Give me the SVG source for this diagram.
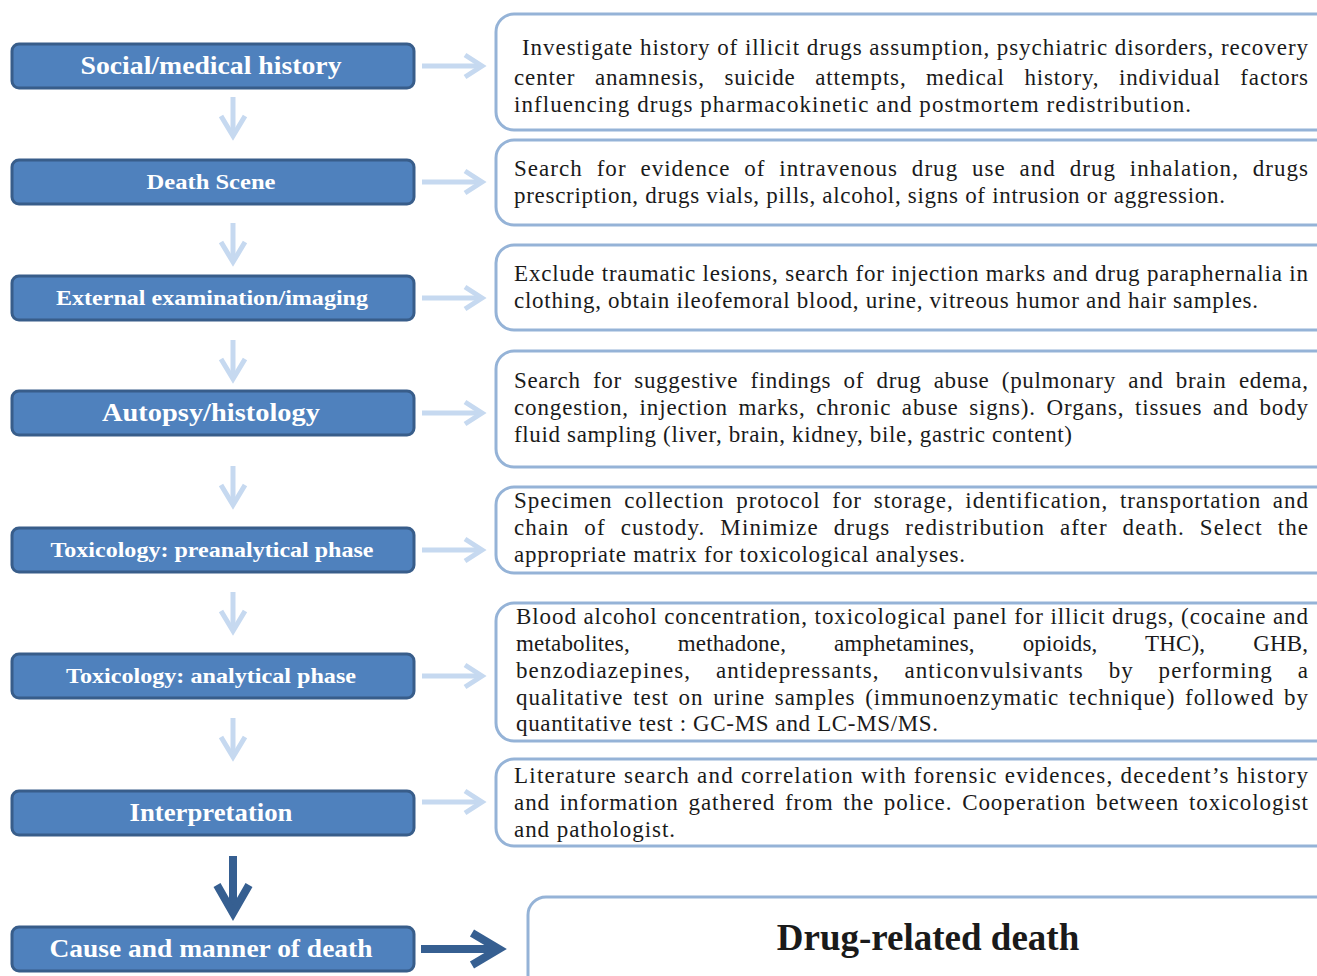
<svg xmlns="http://www.w3.org/2000/svg" width="1317" height="976" viewBox="0 0 1317 976">
<style>
.step rect{fill:#4f81bd;stroke:#385d8a;stroke-width:3}
.step text{fill:#ffffff;font-family:"Liberation Serif",serif;font-weight:bold;text-anchor:middle}
.info rect{fill:#ffffff;stroke:#95b3d7;stroke-width:3}
.info text{fill:#1a1a1a;font-family:"Liberation Serif",serif;font-size:23px}
.lt{fill:none;stroke:#c6d9f0;stroke-width:5;stroke-linecap:butt}
.dk{fill:none;stroke:#365f91;stroke-width:8}
</style>
<rect width="1317" height="976" fill="#ffffff"/>
<g id="connectors">
<line class="lt" x1="233" y1="97" x2="233" y2="136"/><polyline class="lt" points="221,116 233,136 245,116"/>
<line class="lt" x1="233" y1="223" x2="233" y2="262"/><polyline class="lt" points="221,242 233,262 245,242"/>
<line class="lt" x1="233" y1="340" x2="233" y2="379"/><polyline class="lt" points="221,359 233,379 245,359"/>
<line class="lt" x1="233" y1="466" x2="233" y2="505"/><polyline class="lt" points="221,485 233,505 245,485"/>
<line class="lt" x1="233" y1="592" x2="233" y2="631"/><polyline class="lt" points="221,611 233,631 245,611"/>
<line class="lt" x1="233" y1="718" x2="233" y2="757"/><polyline class="lt" points="221,737 233,757 245,737"/>
<line class="lt" x1="422" y1="66" x2="482" y2="66"/><polyline class="lt" points="465,55 482,66 465,77"/>
<line class="lt" x1="422" y1="182" x2="482" y2="182"/><polyline class="lt" points="465,171 482,182 465,193"/>
<line class="lt" x1="422" y1="298" x2="482" y2="298"/><polyline class="lt" points="465,287 482,298 465,309"/>
<line class="lt" x1="422" y1="413" x2="482" y2="413"/><polyline class="lt" points="465,402 482,413 465,424"/>
<line class="lt" x1="422" y1="550" x2="482" y2="550"/><polyline class="lt" points="465,539 482,550 465,561"/>
<line class="lt" x1="422" y1="676" x2="482" y2="676"/><polyline class="lt" points="465,665 482,676 465,687"/>
<line class="lt" x1="422" y1="802" x2="482" y2="802"/><polyline class="lt" points="465,791 482,802 465,813"/>
<line class="dk" x1="233" y1="856" x2="233" y2="912"/><polyline class="dk" points="217,885 233,913 249,885"/>
<line class="dk" x1="421" y1="949" x2="498" y2="949"/><polyline class="dk" points="472,933 499,949 472,965"/>
</g>
<g id="step1" class="step"><rect x="12" y="44" width="402" height="44" rx="7"/><text x="211" y="74" font-size="25" textLength="261" lengthAdjust="spacingAndGlyphs">Social/medical history</text></g>
<g id="step2" class="step"><rect x="12" y="160" width="402" height="44" rx="7"/><text x="211" y="189" font-size="22" textLength="129" lengthAdjust="spacingAndGlyphs">Death Scene</text></g>
<g id="step3" class="step"><rect x="12" y="276" width="402" height="44" rx="7"/><text x="212" y="305" font-size="22" textLength="312" lengthAdjust="spacingAndGlyphs">External examination/imaging</text></g>
<g id="step4" class="step"><rect x="12" y="391" width="402" height="44" rx="7"/><text x="211" y="421" font-size="25" textLength="218" lengthAdjust="spacingAndGlyphs">Autopsy/histology</text></g>
<g id="step5" class="step"><rect x="12" y="528" width="402" height="44" rx="7"/><text x="212" y="557" font-size="22" textLength="323" lengthAdjust="spacingAndGlyphs">Toxicology: preanalytical phase</text></g>
<g id="step6" class="step"><rect x="12" y="654" width="402" height="44" rx="7"/><text x="211" y="683" font-size="22" textLength="290" lengthAdjust="spacingAndGlyphs">Toxicology: analytical phase</text></g>
<g id="step7" class="step"><rect x="12" y="791" width="402" height="44" rx="7"/><text x="211" y="821" font-size="25" textLength="163" lengthAdjust="spacingAndGlyphs">Interpretation</text></g>
<g id="step8" class="step"><rect x="12" y="927" width="402" height="44" rx="7"/><text x="211" y="957" font-size="25" textLength="323" lengthAdjust="spacingAndGlyphs">Cause and manner of death</text></g>
<g id="info1" class="info"><rect x="496" y="14" width="840" height="116" rx="18"/>
<text x="522" y="55" textLength="786" lengthAdjust="spacing">Investigate history of illicit drugs assumption, psychiatric disorders, recovery</text>
<text x="514" y="85" textLength="794" lengthAdjust="spacing" word-spacing="13">center anamnesis, suicide attempts, medical history, individual factors</text>
<text x="514" y="112" textLength="677" lengthAdjust="spacing">influencing drugs pharmacokinetic and postmortem redistribution.</text></g>
<g id="info2" class="info"><rect x="496" y="140" width="840" height="85" rx="18"/>
<text x="514" y="176" textLength="794" lengthAdjust="spacing" word-spacing="7">Search for evidence of  intravenous drug use and drug inhalation, drugs</text>
<text x="514" y="203" textLength="711" lengthAdjust="spacing">prescription, drugs vials, pills, alcohol, signs of intrusion or aggression.</text></g>
<g id="info3" class="info"><rect x="496" y="245" width="840" height="85" rx="18"/>
<text x="514" y="281" textLength="794" lengthAdjust="spacing">Exclude traumatic lesions, search for injection marks and drug paraphernalia in</text>
<text x="514" y="308" textLength="744" lengthAdjust="spacing">clothing, obtain ileofemoral blood, urine, vitreous humor and hair samples.</text></g>
<g id="info4" class="info"><rect x="496" y="351" width="840" height="116" rx="18"/>
<text x="514" y="388" textLength="794" lengthAdjust="spacing" word-spacing="6">Search for  suggestive findings of drug abuse (pulmonary and brain edema,</text>
<text x="514" y="415" textLength="794" lengthAdjust="spacing" word-spacing="4">congestion, injection marks,  chronic abuse signs).  Organs, tissues and body</text>
<text x="514" y="442" textLength="558" lengthAdjust="spacing">fluid sampling (liver, brain, kidney, bile, gastric content)</text></g>
<g id="info5" class="info"><rect x="496" y="487" width="840" height="86" rx="18"/>
<text x="514" y="508" textLength="794" lengthAdjust="spacing" word-spacing="5">Specimen collection protocol for storage, identification, transportation and</text>
<text x="514" y="535" textLength="794" lengthAdjust="spacing" word-spacing="8">chain of custody. Minimize  drugs redistribution after death. Select the</text>
<text x="514" y="562" textLength="451" lengthAdjust="spacing">appropriate matrix for toxicological analyses.</text></g>
<g id="info6" class="info"><rect x="496" y="603" width="840" height="138" rx="18"/>
<text x="516" y="624" textLength="792" lengthAdjust="spacing">Blood alcohol concentration, toxicological panel for illicit drugs, (cocaine and</text>
<text x="516" y="651" textLength="792" lengthAdjust="spacing" word-spacing="42">metabolites, methadone, amphetamines, opioids, THC), GHB,</text>
<text x="516" y="678" textLength="792" lengthAdjust="spacing" word-spacing="18">benzodiazepines, antidepressants, anticonvulsivants by performing a</text>
<text x="516" y="705" textLength="792" lengthAdjust="spacing" word-spacing="3">qualitative test on urine samples (immunoenzymatic technique) followed by</text>
<text x="516" y="731" textLength="422" lengthAdjust="spacing">quantitative test : GC-MS and LC-MS/MS.</text></g>
<g id="info7" class="info"><rect x="496" y="759" width="840" height="87" rx="18"/>
<text x="514" y="783" textLength="794" lengthAdjust="spacing">Literature search and correlation with forensic evidences, decedent’s history</text>
<text x="514" y="810" textLength="794" lengthAdjust="spacing" word-spacing="3">and information gathered from the police. Cooperation between toxicologist</text>
<text x="514" y="837" textLength="161" lengthAdjust="spacing">and pathologist.</text></g>
<g id="info8" class="info"><rect x="528" y="897" width="820" height="100" rx="18"/>
<text x="928" y="950" style="font-size:37px" font-weight="bold" text-anchor="middle">Drug-related death</text></g>
</svg>
